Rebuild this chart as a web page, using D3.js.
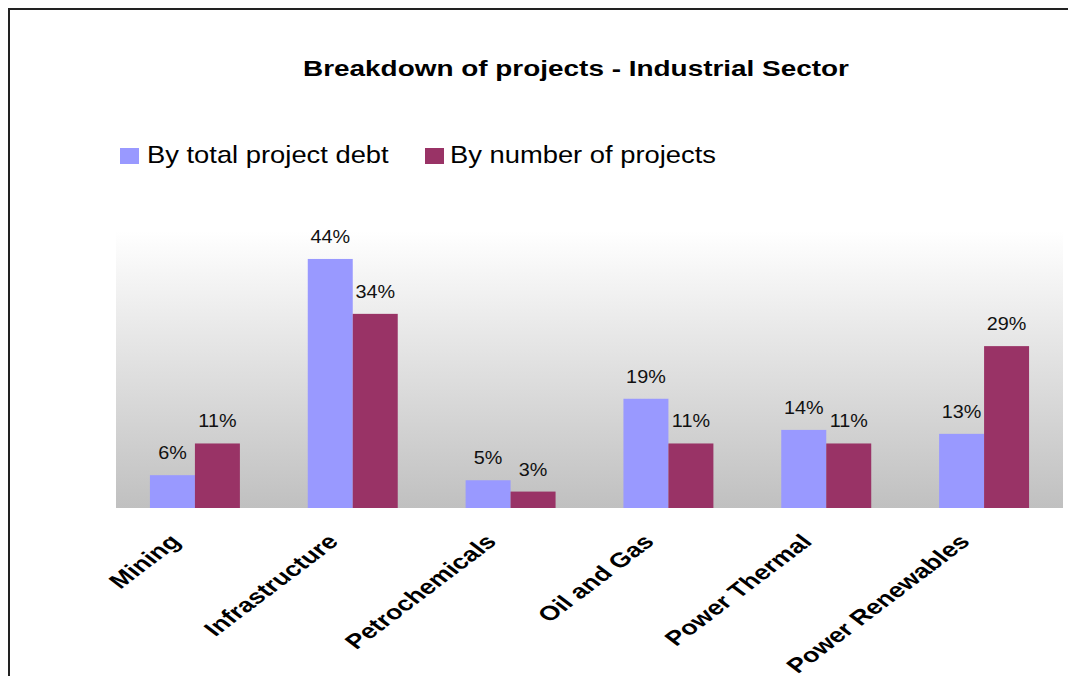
<!DOCTYPE html>
<html>
<head>
<meta charset="utf-8">
<script src="https://cdn.jsdelivr.net/npm/d3@7"></script>
<style>
  html, body { margin: 0; background: #fff; overflow: hidden; }
  svg { display: block; font-family: "Liberation Sans", Arial, sans-serif; }
</style>
</head>
<body>
<div id="chart"></div>
<script>
// Data
var categories = ["Mining", "Infrastructure", "Petrochemicals", "Oil and Gas", "Power Thermal", "Power Renewables"];
var seriesNames = ["By total project debt", "By number of projects"];
var debtShare = [0.058, 0.44, 0.049, 0.193, 0.138, 0.131];
var countShare = [0.114, 0.343, 0.029, 0.114, 0.114, 0.286];
var colors = ["#9999FF", "#993366"];

var w = 1068;
var h = 676;

// the source picture is stretched sideways, so text is widened a bit
var stretch = 1.32;

var plot = { left: 116, right: 1063, top: 231, bottom: 508 };

var svg = d3.select("#chart")
  .append("svg")
  .attr("width", w)
  .attr("height", h);

// outer frame: only top and left edges are inside the picture
svg.append("path")
  .attr("d", "M9," + (h + 5) + "V9H" + (w + 5))
  .attr("fill", "none")
  .attr("stroke", "#222")
  .attr("stroke-width", 2);

// background gradient of plot area
var grad = svg.append("defs").append("linearGradient")
  .attr("id", "bg")
  .attr("x1", 0).attr("y1", 0)
  .attr("x2", 0).attr("y2", 1);
grad.append("stop").attr("offset", "0%").attr("stop-color", "#ffffff");
grad.append("stop").attr("offset", "100%").attr("stop-color", "#c0c0c0");

svg.append("rect")
  .attr("x", plot.left)
  .attr("y", plot.top)
  .attr("width", plot.right - plot.left)
  .attr("height", plot.bottom - plot.top)
  .attr("fill", "url(#bg)");

// Scales
var xScale = d3.scaleBand()
  .domain(categories)
  .range([plot.left, plot.right])
  .paddingInner(0.43)
  .paddingOuter(0.215);

var xSub = d3.scaleBand()
  .domain([0, 1])
  .range([0, xScale.bandwidth()]);

var yScale = d3.scaleLinear()
  .domain([0, 0.5])
  .range([plot.bottom, plot.bottom - 283]);

var fmt = d3.format(".0%");

var rows = categories.map(function(c, i) {
  return { cat: c, values: [debtShare[i], countShare[i]] };
});

var groups = svg.selectAll(".cat")
  .data(rows)
  .enter().append("g")
  .attr("class", "cat")
  .attr("transform", function(d) { return "translate(" + xScale(d.cat) + ",0)"; });

groups.selectAll("rect")
  .data(function(d) { return d.values; })
  .enter().append("rect")
  .attr("x", function(d, i) { return xSub(i); })
  .attr("y", function(d) { return yScale(d); })
  .attr("width", xSub.bandwidth())
  .attr("height", function(d) { return plot.bottom - yScale(d); })
  .attr("fill", function(d, i) { return colors[i]; });

groups.selectAll("text.val")
  .data(function(d) { return d.values; })
  .enter().append("text")
  .attr("class", "val")
  .attr("transform", function(d, i) {
    return "translate(" + (xSub(i) + xSub.bandwidth() / 2) + "," + (yScale(d) - 16) + ") scale(1.1,1)";
  })
  .attr("text-anchor", "middle")
  .style("font-size", "18px")
  .style("fill", "#111")
  .text(function(d) { return fmt(d); });

// Category labels, rotated
var xAxis = d3.axisBottom(xScale).tickSize(0).tickPadding(0);
var axisG = svg.append("g")
  .attr("transform", "translate(0," + plot.bottom + ")")
  .call(xAxis);
axisG.select(".domain").remove();
axisG.selectAll(".tick text")
  .attr("text-anchor", "end")
  .attr("font-family", "Liberation Sans, Arial, sans-serif")
  .attr("font-weight", "bold")
  .attr("font-size", "20.5px")
  .attr("fill", "#000")
  .attr("y", 0)
  .attr("dy", 0)
  .attr("transform", "translate(-13,35) scale(" + stretch + ",1) rotate(-45)");

// Title
svg.append("text")
  .attr("x", 576)
  .attr("y", 76)
  .attr("text-anchor", "middle")
  .attr("textLength", 546)
  .attr("lengthAdjust", "spacingAndGlyphs")
  .style("font-weight", "bold")
  .style("font-size", "22px")
  .style("fill", "#000")
  .text("Breakdown of projects - Industrial Sector");

// Legend
var legendX = [120, 425];
var legendTextX = [27, 25];
var legend = svg.selectAll(".legend")
  .data(seriesNames)
  .enter().append("g")
  .attr("class", "legend")
  .attr("transform", function(d, i) { return "translate(" + legendX[i] + ",148)"; });

legend.append("rect")
  .attr("width", 19)
  .attr("height", 16)
  .attr("fill", function(d, i) { return colors[i]; });

legend.append("text")
  .attr("transform", function(d, i) { return "translate(" + legendTextX[i] + ",15) scale(1.14,1)"; })
  .style("font-size", "24px")
  .style("fill", "#000")
  .text(function(d) { return d; });
</script>
</body>
</html>
